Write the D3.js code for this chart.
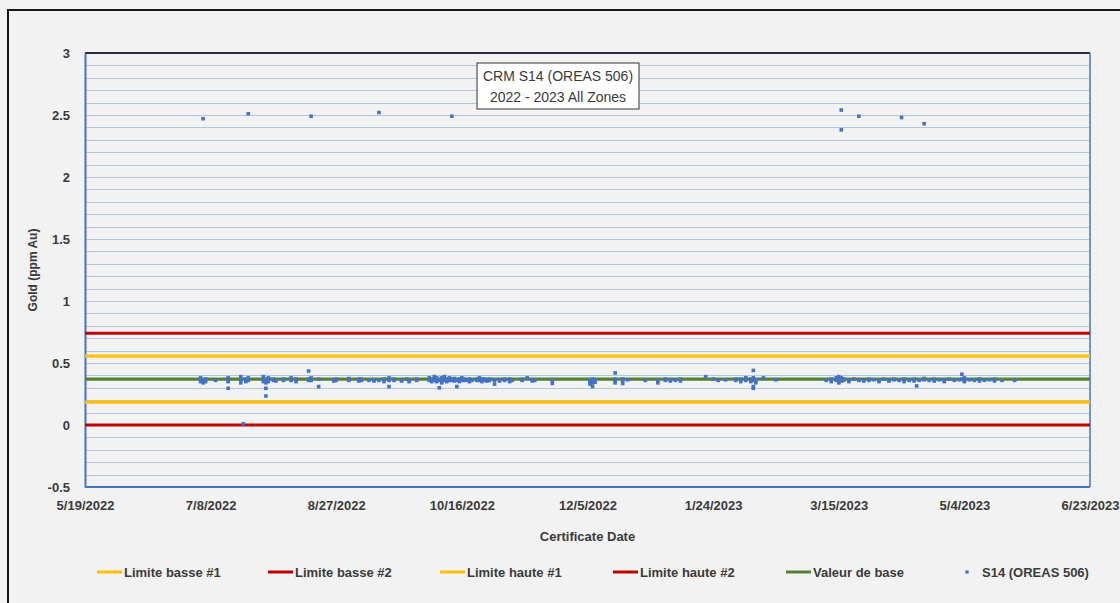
<!DOCTYPE html>
<html>
<head>
<meta charset="utf-8">
<script src="https://cdn.jsdelivr.net/npm/d3@7"></script>
<style>
  html, body { margin: 0; padding: 0; background: #f2f2f2; }
  svg { display: block; }
  text { font-family: "Liberation Sans", Arial, sans-serif; fill: #3a3a3a; }
</style>
</head>
<body>
<svg id="chart" width="1120" height="603"></svg>
<script>
// ---------- data ----------
const chartTitle = ["CRM S14 (OREAS 506)", "2022 - 2023 All Zones"];
const xAxisTitle = "Certificate Date";
const yAxisTitle = "Gold (ppm Au)";

const xTickLabels = ["5/19/2022","7/8/2022","8/27/2022","10/16/2022","12/5/2022","1/24/2023","3/15/2023","5/4/2023","6/23/2023"];
const yTickValues = [-0.5, 0, 0.5, 1, 1.5, 2, 2.5, 3];

const limitNames  = ["Limite basse #1", "Limite basse #2", "Limite haute #1", "Limite haute #2", "Valeur de base"];
const limitValues = [0.185, 0, 0.555, 0.74, 0.37];

const sampleName = "S14 (OREAS 506)";
// certificate date -> gold values (ppm Au)
const sampleDates = [
 "7/4/2022","7/5/2022","7/6/2022","7/10/2022","7/15/2022","7/20/2022","7/21/2022","7/22/2022","7/23/2022",
 "7/29/2022","7/30/2022","7/31/2022","8/2/2022","8/3/2022","8/6/2022","8/9/2022","8/11/2022","8/16/2022",
 "8/17/2022","8/20/2022","8/26/2022","8/27/2022","9/1/2022","9/5/2022","9/6/2022","9/9/2022","9/11/2022",
 "9/13/2022","9/15/2022","9/17/2022","9/19/2022","9/22/2022","9/24/2022","9/25/2022","9/28/2022",
 "10/3/2022","10/4/2022","10/5/2022","10/6/2022","10/7/2022","10/8/2022","10/9/2022","10/10/2022","10/11/2022",
 "10/12/2022","10/13/2022","10/14/2022","10/15/2022","10/16/2022","10/17/2022","10/18/2022","10/19/2022",
 "10/20/2022","10/22/2022","10/23/2022","10/24/2022","10/25/2022","10/26/2022","10/27/2022","10/29/2022",
 "10/31/2022","11/2/2022","11/4/2022","11/5/2022","11/9/2022","11/11/2022","11/13/2022","11/14/2022",
 "11/21/2022","12/6/2022","12/7/2022","12/8/2022","12/16/2022","12/19/2022","12/21/2022","12/28/2022",
 "1/2/2023","1/5/2023","1/7/2023","1/9/2023","1/11/2023","1/21/2023","1/24/2023","1/26/2023","1/29/2023",
 "2/2/2023","2/4/2023","2/6/2023","2/8/2023","2/9/2023","2/10/2023","2/13/2023","2/18/2023",
 "3/10/2023","3/12/2023","3/14/2023","3/15/2023","3/16/2023","3/17/2023","3/19/2023","3/21/2023","3/23/2023",
 "3/25/2023","3/27/2023","3/29/2023","3/31/2023","4/2/2023","4/4/2023","4/6/2023","4/8/2023","4/9/2023",
 "4/10/2023","4/12/2023","4/14/2023","4/15/2023","4/16/2023","4/18/2023","4/20/2023","4/22/2023","4/24/2023",
 "4/26/2023","4/28/2023","4/30/2023","5/2/2023","5/3/2023","5/4/2023","5/6/2023","5/8/2023","5/10/2023",
 "5/12/2023","5/14/2023","5/16/2023","5/19/2023","5/24/2023"
];
const sampleValues = [
 [0.35,0.37,0.38],[0.36,0.34,2.47],[0.37,0.35],[0.36],[0.37,0.36,0.35,0.38,0.296],[0.34,0.37,0.39,0.36],[0.01],[0.35,0.37],[0.36,0.38,2.51],
 [0.35,0.37,0.39],[0.36,0.34,0.296,0.234],[0.37,0.38,0.35],[0.36,0.37],[0.355],[0.37,0.36],[0.36,0.38],[0.35,0.37],[0.37,0.36,0.435],
 [0.38,0.36,2.49],[0.37,0.31],[0.36,0.355],[0.37,0.36],[0.37,0.36,0.375],[0.36,0.355,0.37],[0.36,0.37],[0.36],[0.365,0.355],
 [0.36,2.52],[0.37,0.35],[0.38,0.36,0.31],[0.36,0.37],[0.36,0.355],[0.37],[0.36,0.35],[0.37,0.36],
 [0.36,0.38],[0.37,0.35],[0.39,0.36],[0.37,0.35,0.38],[0.36,0.30],[0.38,0.37,0.34],[0.36,0.39],[0.37,0.35],[0.36,0.38],
 [0.37,0.36,2.49],[0.355,0.375],[0.36,0.31],[0.37,0.35],[0.38,0.36],[0.37,0.36],[0.36],[0.35,0.37],
 [0.36],[0.37,0.36],[0.36,0.38],[0.37,0.35],[0.36,0.37],[0.365,0.355],[0.37,0.36],[0.36,0.33],
 [0.365,0.355],[0.36,0.37],[0.35,0.37],[0.36],[0.37,0.36],[0.38],[0.365,0.355],[0.36],
 [0.36,0.335],[0.36,0.35,0.33],[0.37,0.34,0.31,0.355],[0.36,0.345],[0.42,0.37,0.355,0.34],[0.36,0.335,0.37],[0.365],[0.36],
 [0.36,0.34],[0.37,0.36],[0.365,0.355],[0.36],[0.37,0.355],[0.39],[0.37],[0.36],[0.365],
 [0.37,0.36],[0.35,0.37],[0.36,0.38],[0.37,0.35],[0.36,0.44,0.31,0.296,0.38],[0.36,0.34],[0.38],[0.365],
 [0.36],[0.37,0.35],[0.36,0.38],[0.37,0.35,0.39,0.36,0.34],[0.36,0.38,0.355,2.54,2.38],[0.37,0.36],[0.36,0.35],[0.37],[0.36,0.365,2.49],
 [0.355],[0.37,0.36],[0.365],[0.36,0.35],[0.37],[0.36,0.355],[0.365,0.37],[0.36],[2.48],
 [0.37,0.35],[0.36,0.365],[0.37,0.355],[0.315],[0.36],[0.365,0.375,2.43],[0.36],[0.37,0.355],[0.365],
 [0.36,0.35],[0.37],[0.36],[0.365],[0.41,0.37],[0.36,0.35,0.38],[0.365],[0.36],[0.37,0.355],
 [0.36],[0.365],[0.37,0.355],[0.36],[0.36]
];

// ---------- layout ----------
const W = 1120, H = 603;
const plot = { left: 85, right: 1090, top: 53, bottom: 487 };
const parse = d3.timeParse("%m/%d/%Y");
const fmt = d => (d.getMonth() + 1) + "/" + d.getDate() + "/" + d.getFullYear();

const xTicks = xTickLabels.map(parse);
const x = d3.scaleTime().domain([xTicks[0], xTicks[xTicks.length - 1]]).range([plot.left, plot.right]);
const y = d3.scaleLinear().domain([-0.5, 3]).range([plot.bottom, plot.top]);

const svg = d3.select("#chart");
svg.append("rect").attr("width", W).attr("height", H).attr("fill", "#f2f2f2");
svg.append("rect").attr("x", 8).attr("y", 10).attr("width", 1300).attr("height", 800)
  .attr("fill", "none").attr("stroke", "#161616").attr("stroke-width", 2);

// gridlines every 0.1
const grid = d3.range(-5, 31).map(i => i / 10);
svg.append("g").selectAll("line").data(grid).join("line")
  .attr("x1", plot.left).attr("x2", plot.right)
  .attr("y1", d => Math.round(y(d)) + 0.5).attr("y2", d => Math.round(y(d)) + 0.5)
  .attr("stroke", "#b4c6e7").attr("stroke-width", 1.2);

// plot frame
svg.append("line").attr("x1", plot.left).attr("x2", plot.right).attr("y1", plot.top).attr("y2", plot.top)
  .attr("stroke", "#2b2b3b").attr("stroke-width", 2);
svg.append("line").attr("x1", plot.right).attr("x2", plot.right).attr("y1", plot.top).attr("y2", plot.bottom)
  .attr("stroke", "#4472c4").attr("stroke-width", 1.5);
svg.append("line").attr("x1", plot.left).attr("x2", plot.right).attr("y1", plot.bottom).attr("y2", plot.bottom)
  .attr("stroke", "#4472c4").attr("stroke-width", 2);

// axes
const yAxis = d3.axisLeft(y).tickValues(yTickValues).tickSize(0).tickPadding(15).tickFormat(d => String(d));
const gy = svg.append("g").attr("transform", `translate(${plot.left},0)`).call(yAxis);
gy.select(".domain").attr("stroke", "#4472c4").attr("stroke-width", 2);
gy.selectAll("text").style("font-size", "13px").style("font-weight", "600").attr("fill", "#3a3a3a");

const xAxis = d3.axisBottom(x).tickValues(xTicks).tickSize(0).tickPadding(14).tickFormat(fmt);
const gx = svg.append("g").attr("transform", `translate(0,${plot.bottom})`).call(xAxis);
gx.select(".domain").remove();
gx.selectAll("text").style("font-size", "13px").style("font-weight", "600").attr("fill", "#3a3a3a");

svg.append("text").attr("x", (plot.left + plot.right) / 2).attr("y", 541).attr("text-anchor", "middle")
  .style("font-size", "13px").style("font-weight", "600").text(xAxisTitle);
svg.append("text").attr("transform", `translate(37,${(plot.top + plot.bottom) / 2}) rotate(-90)`)
  .attr("text-anchor", "middle").style("font-size", "12px").style("font-weight", "600").text(yAxisTitle);

// limit lines
const limitColors = ["#ffc000", "#c00000", "#ffc000", "#c00000", "#548235"];
svg.append("g").selectAll("line").data(limitValues).join("line")
  .attr("x1", x(xTicks[0])).attr("x2", x(xTicks[xTicks.length - 1]))
  .attr("y1", d => y(d)).attr("y2", d => y(d))
  .attr("stroke", (d, i) => limitColors[i]).attr("stroke-width", 3.2);

// samples
const points = [];
sampleDates.forEach((ds, i) => sampleValues[i].forEach(v => points.push({ date: parse(ds), value: v })));
svg.append("g").selectAll("rect").data(points).join("rect")
  .attr("x", d => x(d.date) - 1.8).attr("y", d => y(d.value) - 1.8)
  .attr("width", 3.6).attr("height", 3.6).attr("fill", "#4472c4");

// title box
svg.append("rect").attr("x", 477).attr("y", 63).attr("width", 162).attr("height", 46)
  .attr("fill", "#ffffff").attr("stroke", "#333").attr("stroke-width", 1);
svg.append("g").selectAll("text").data(chartTitle).join("text")
  .attr("x", 558).attr("y", (d, i) => 81 + i * 21).attr("text-anchor", "middle")
  .style("font-size", "14px").style("font-weight", "500").attr("fill", "#111").text(d => d);

// legend
const legendX = [97, 268, 440, 613, 786];
const legendY = 572;
const lg = svg.append("g");
limitNames.forEach((name, i) => {
  lg.append("line").attr("x1", legendX[i]).attr("x2", legendX[i] + 25).attr("y1", legendY).attr("y2", legendY)
    .attr("stroke", limitColors[i]).attr("stroke-width", 3);
  lg.append("text").attr("x", legendX[i] + 27).attr("y", legendY + 4.5)
    .style("font-size", "13px").style("font-weight", "600").text(name);
});
lg.append("rect").attr("x", 965.4).attr("y", legendY - 1.6).attr("width", 3.2).attr("height", 3.2).attr("fill", "#4472c4");
lg.append("text").attr("x", 982).attr("y", legendY + 4.5).style("font-size", "13px").style("font-weight", "600").text(sampleName);
</script>
</body>
</html>
